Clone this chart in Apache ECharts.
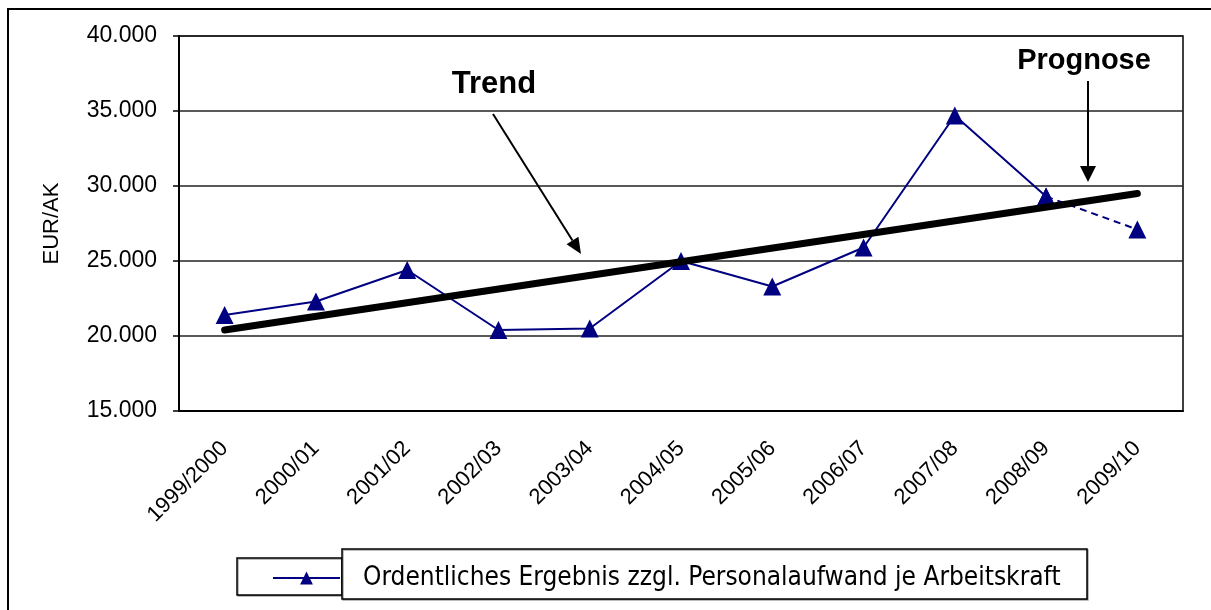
<!DOCTYPE html>
<html>
<head>
<meta charset="utf-8">
<script src="https://cdn.jsdelivr.net/npm/echarts@6/dist/echarts.min.js"></script>
<style>
  html, body { margin: 0; padding: 0; background: #fff; }
  #chart { width: 1211px; height: 610px; }
</style>
</head>
<body>
<div id="chart"></div>
<script>
const years = ["1999/2000", "2000/01", "2001/02", "2002/03", "2003/04", "2004/05",
  "2005/06", "2006/07", "2007/08", "2008/09", "2009/10"];
const ergebnis = [21400, 22300, 24400, 20400, 20500, 25000, 23300, 25900, 34700, 29300, 27100];
const trendEnds = [20400, 29500];
const yTicks = { min: 15000, max: 40000, step: 5000 };
const seriesName = "Ordentliches Ergebnis zzgl. Personalaufwand je Arbeitskraft";

const navy = "#000080";
const sans = "'Liberation Sans', Arial, sans-serif";

// last segment (forecast) is dashed
const solidPart = ergebnis.map((v, i) => (i < ergebnis.length - 1 ? v : null));
const dashedPart = ergebnis.map((v, i) => (i >= ergebnis.length - 2 ? v : null));
const trendData = [[years[0], trendEnds[0]], [years[years.length - 1], trendEnds[1]]];

function fmt(v) {
  return String(v).replace(/\B(?=(\d{3})+(?!\d))/g, ".");
}

function arrow(x1, y1, x2, y2, head, half) {
  const dx = x2 - x1, dy = y2 - y1;
  const len = Math.sqrt(dx * dx + dy * dy);
  const ux = dx / len, uy = dy / len;
  const bx = x2 - ux * head, by = y2 - uy * head;
  return [
    { type: "line", shape: { x1: x1, y1: y1, x2: bx, y2: by },
      style: { stroke: "#000", lineWidth: 2 }, z: 100 },
    { type: "polygon",
      shape: { points: [[x2, y2], [bx - uy * half, by + ux * half], [bx + uy * half, by - ux * half]] },
      style: { fill: "#000" }, z: 100 }
  ];
}

const chart = echarts.init(document.getElementById("chart"));

chart.setOption({
  animation: false,
  grid: {
    left: 179, right: 28, top: 36, bottom: 199,
    show: true, borderColor: "#000", borderWidth: 1.5
  },
  xAxis: {
    type: "category",
    data: years,
    boundaryGap: true,
    axisLine: { lineStyle: { color: "#000", width: 2 } },
    axisTick: { length: 6, lineStyle: { color: "#000", width: 1.5 } },
    axisLabel: { rotate: 45, margin: 34, fontSize: 22, color: "#000", fontFamily: sans }
  },
  yAxis: {
    type: "value",
    min: yTicks.min, max: yTicks.max, interval: yTicks.step,
    name: "EUR/AK",
    nameLocation: "middle",
    nameRotate: 90,
    nameGap: 116,
    nameTextStyle: { fontSize: 22, color: "#000", fontFamily: sans },
    axisLine: { show: true, lineStyle: { color: "#000", width: 2 } },
    axisTick: { show: true, length: 6, lineStyle: { color: "#000", width: 1.5 } },
    axisLabel: { margin: 22, fontSize: 23, color: "#000", fontFamily: sans, formatter: fmt },
    splitLine: { lineStyle: { color: "#222", width: 1.5 } }
  },
  legend: {
    data: [seriesName],
    left: 272, top: 563, padding: 0,
    itemWidth: 67, itemHeight: 16,
    textStyle: {
      fontSize: 26, color: "#000", lineHeight: 30, padding: [0, 0, 0, 18],
      fontFamily: "'Liberation Sans Narrow', 'DejaVu Sans Condensed', sans-serif"
    }
  },
  series: [
    {
      name: seriesName,
      type: "line",
      data: solidPart,
      symbol: "triangle", symbolSize: 18,
      lineStyle: { color: navy, width: 2 },
      itemStyle: { color: navy },
      z: 3
    },
    {
      name: seriesName,
      type: "line",
      data: dashedPart,
      symbol: "triangle", symbolSize: 18,
      lineStyle: { color: navy, width: 2, type: [7, 5] },
      itemStyle: { color: navy },
      z: 3
    },
    {
      name: "Trend",
      type: "line",
      data: trendData,
      symbol: "none",
      lineStyle: { color: "#000", width: 7, cap: "round" },
      z: 5
    }
  ],
  graphic: [
    { type: "rect", shape: { x: 8, y: 9, width: 1240, height: 640 },
      style: { fill: null, stroke: "#000", lineWidth: 2 }, z: 0 },
    { type: "rect", shape: { x: 237, y: 558, width: 105, height: 37 },
      style: { fill: "#fff", stroke: "#000", lineWidth: 1.5, shadowColor: "rgba(0,0,0,0.35)", shadowOffsetX: 1, shadowOffsetY: 1 }, z: -1 },
    { type: "rect", shape: { x: 342, y: 549, width: 745, height: 50 },
      style: { fill: "#fff", stroke: "#000", lineWidth: 1.5, shadowColor: "rgba(0,0,0,0.35)", shadowOffsetX: 1, shadowOffsetY: 1 }, z: -1 },
    { type: "text", x: 494, y: 84, z: 100,
      style: { text: "Trend", font: "bold 31px " + sans, fill: "#000", align: "center", verticalAlign: "middle" } },
    { type: "text", x: 1084, y: 61, z: 100,
      style: { text: "Prognose", font: "bold 29px " + sans, fill: "#000", align: "center", verticalAlign: "middle" } }
  ].concat(arrow(493, 114, 581, 254, 16, 7)).concat(arrow(1088, 81, 1088, 182, 16, 8))
});
</script>
</body>
</html>
